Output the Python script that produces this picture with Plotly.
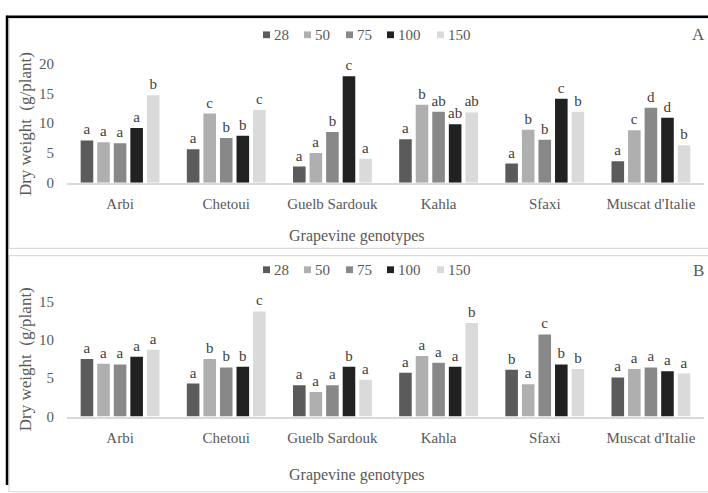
import plotly.graph_objects as go

W, H = 708, 493

genotypes = ["Arbi", "Chetoui", "Guelb Sardouk", "Kahla", "Sfaxi", "Muscat d'Italie"]
doses = ["28", "50", "75", "100", "150"]
colors = ["#5b5b5b", "#afafaf", "#888888", "#212121", "#dadada"]

# Panel A: dry weight (g/plant) per dose, one list per dose
a_28 = [7.1, 5.6, 2.7, 7.3, 3.2, 3.6]
a_50 = [6.8, 11.6, 5.0, 13.1, 8.9, 8.8]
a_75 = [6.6, 7.5, 8.5, 11.9, 7.2, 12.6]
a_100 = [9.2, 7.9, 17.9, 9.8, 14.1, 10.9]
a_150 = [14.7, 12.2, 4.0, 11.8, 11.9, 6.3]
a_letters = [
    ["a", "a", "a", "a", "a", "a"],
    ["a", "c", "a", "b", "b", "c"],
    ["a", "b", "b", "ab", "b", "d"],
    ["a", "b", "c", "ab", "c", "d"],
    ["b", "c", "a", "ab", "b", "b"],
]

# Panel B
b_28 = [7.5, 4.3, 4.1, 5.7, 6.1, 5.1]
b_50 = [6.9, 7.5, 3.2, 7.9, 4.2, 6.2]
b_75 = [6.8, 6.4, 4.1, 7.0, 10.7, 6.4]
b_100 = [7.8, 6.5, 6.5, 6.5, 6.8, 5.9]
b_150 = [8.7, 13.7, 4.8, 12.2, 6.2, 5.6]
b_letters = [
    ["a", "a", "a", "a", "b", "a"],
    ["a", "b", "a", "a", "a", "a"],
    ["a", "b", "a", "a", "c", "a"],
    ["a", "b", "b", "a", "b", "a"],
    ["a", "c", "a", "b", "b", "a"],
]

FONT = "'Liberation Serif', 'Times New Roman', 'DejaVu Serif', serif"
GREY = "#595959"

# left edge (px) of each key swatch in the compact dose key above each panel
key_left_px = [263, 304, 346, 387, 437]


def px_x(p):
    return p / W


def px_y(p):
    return 1 - p / H


fig = go.Figure()

panels = [
    ([a_28, a_50, a_75, a_100, a_150], a_letters, "x", "y"),
    ([b_28, b_50, b_75, b_100, b_150], b_letters, "x2", "y2"),
]
letter_font = dict(family=FONT, size=15, color="#404040")
for series, letters, xa, ya in panels:
    for i, dose in enumerate(doses):
        fig.add_trace(go.Bar(
            x=genotypes, y=series[i], name=dose,
            marker=dict(color=colors[i], line=dict(width=0)),
            text=letters[i], textposition="outside", cliponaxis=False,
            constraintext="none",
            textfont=letter_font, outsidetextfont=letter_font,
            xaxis=xa, yaxis=ya, showlegend=False, hoverinfo="skip",
        ))

x_dom = [px_x(67), px_x(704)]
axis_common = dict(showgrid=False, zeroline=False, ticks="",
                   tickfont=dict(family=FONT, size=15, color=GREY))

fig.update_layout(
    width=W, height=H,
    margin=dict(l=0, r=0, t=0, b=0),
    paper_bgcolor="white", plot_bgcolor="white",
    barmode="group", bargap=0.22, bargroupgap=0.24,
    font=dict(family=FONT, size=15, color=GREY),
    xaxis=dict(domain=x_dom, anchor="y", showline=True, linecolor="#d9d9d9",
               linewidth=1.5, ticklabelstandoff=7, **axis_common),
    yaxis=dict(domain=[px_y(180.5), px_y(57.5)], anchor="x", range=[0, 20],
               tickvals=[0, 5, 10, 15, 20], showline=False,
               ticklabelstandoff=12, **axis_common),
    xaxis2=dict(domain=x_dom, anchor="y2", showline=True, linecolor="#d9d9d9",
                linewidth=1.5, ticklabelstandoff=7, **axis_common),
    yaxis2=dict(domain=[px_y(422.3), px_y(303.3)], anchor="x2", range=[0, 15],
                tickvals=[0, 5, 10, 15], showline=False,
                ticklabelstandoff=12, **axis_common),
)

# panel frames
shapes = [
    dict(type="rect", xref="paper", yref="paper", x0=px_x(9), x1=px_x(712),
         y0=px_y(248.5), y1=px_y(10.5), line=dict(color="#d9d9d9", width=1.2)),
    dict(type="rect", xref="paper", yref="paper", x0=px_x(9), x1=px_x(712),
         y0=px_y(500), y1=px_y(256), line=dict(color="#d9d9d9", width=1.2)),
    dict(type="line", xref="paper", yref="paper", x0=px_x(6), x1=1,
         y0=px_y(9), y1=px_y(9), line=dict(color="black", width=2.5)),
    dict(type="line", xref="paper", yref="paper", x0=px_x(7), x1=px_x(7),
         y0=px_y(8), y1=0, line=dict(color="black", width=2.5)),
]

annos = []
for ytitle_c, xtitle_y, letter, letter_y, key_y in [
        (120, 236, "A", 27.5, 27.7), (363, 483, "B", 271, 270.5)]:
    annos.append(dict(text="Dry weight  (g/plant)", x=px_x(25), y=px_y(ytitle_c),
                      xref="paper", yref="paper", textangle=-90, showarrow=False,
                      xanchor="center", yanchor="middle",
                      font=dict(family=FONT, size=17, color=GREY)))
    annos.append(dict(text="Grapevine genotypes", x=px_x(357), y=px_y(xtitle_y),
                      xref="paper", yref="paper", showarrow=False,
                      xanchor="center", yanchor="middle",
                      font=dict(family=FONT, size=16, color=GREY)))
    annos.append(dict(text=letter, x=px_x(698), y=px_y(letter_y),
                      xref="paper", yref="paper", showarrow=False,
                      xanchor="center", yanchor="middle",
                      font=dict(family=FONT, size=17, color=GREY)))
    # dose key: colour swatch followed by the dose label
    for dose, col, left in zip(doses, colors, key_left_px):
        shapes.append(dict(type="rect", xref="paper", yref="paper",
                           x0=px_x(left), x1=px_x(left + 7),
                           y0=px_y(key_y + 3.5), y1=px_y(key_y - 3.5),
                           fillcolor=col, line=dict(width=0)))
        annos.append(dict(text=dose, x=px_x(left + 9), y=px_y(key_y),
                          xref="paper", yref="paper", showarrow=False,
                          xanchor="left", yanchor="middle",
                          font=dict(family=FONT, size=15, color=GREY)))

fig.update_layout(shapes=shapes, annotations=annos)

fig.write_html("out.html")
